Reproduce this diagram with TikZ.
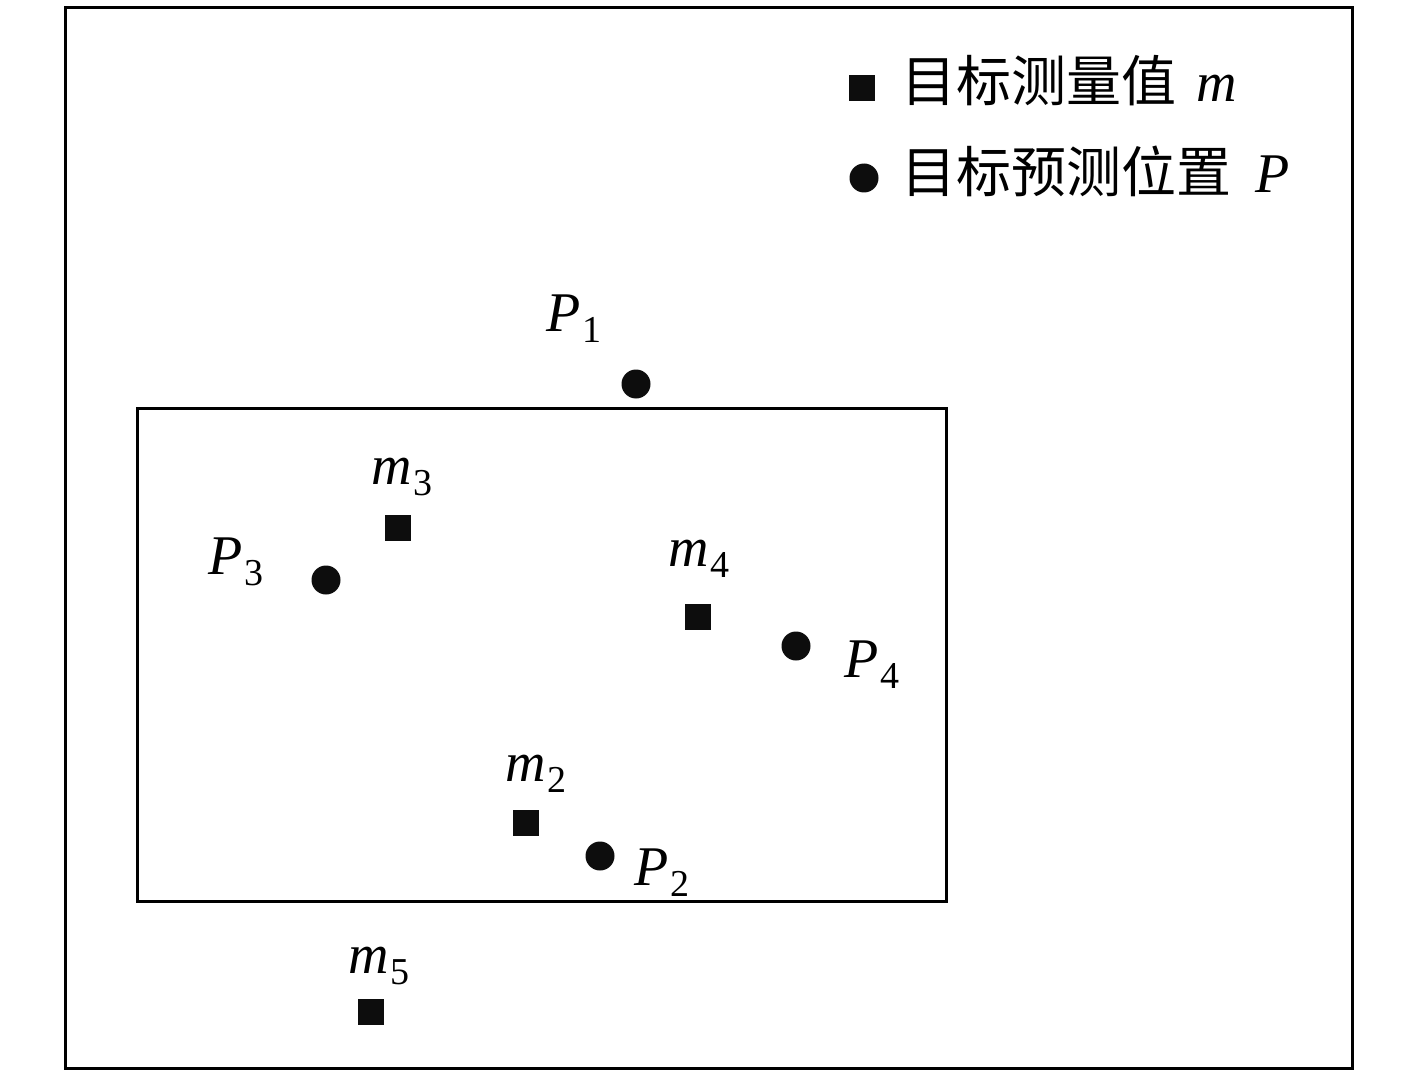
\documentclass[tikz,border=0pt]{standalone}
\usepackage{fontspec}
\setmainfont{Liberation Serif}
\newfontfamily\cjk{Noto Sans CJK SC}
\newcommand\lbl[2]{\textit{#1}\kern1pt\raisebox{-5.5pt}{\fontsize{19}{19}\selectfont #2}}
\tikzset{
  frame/.style={draw=black, line width=1.5pt},
  meas/.style={fill=black!95, rectangle, minimum size=13pt, inner sep=0pt},
  pred/.style={fill=black!95, circle, minimum size=14.5pt, inner sep=0pt},
  lab/.style={anchor=base west, inner sep=0pt, font=\fontsize{28}{28}\selectfont},
  leg/.style={anchor=base west, inner sep=0pt}
}
\begin{document}
\begin{tikzpicture}[x=0.5pt,y=-0.5pt]
\useasboundingbox (0,0) rectangle (1417,1075);
\fill[white] (0,0) rectangle (1417,1075);
\draw[frame] (65,8) rectangle (1352,1068);
\draw[frame] (137,408) rectangle (946,901);
% legend
\node[meas] (legm) at (862,88) {};
\node[pred] (legp) at (864,178) {};
\node[leg] (legmt) at (901,102) {{\fontsize{27.5}{27.5}\cjk 目标测量值}\kern10pt{\fontsize{28}{28}\selectfont\textit{m}}};
\node[leg] (legpt) at (901,193) {{\fontsize{27.5}{27.5}\cjk 目标预测位置}\kern12pt{\fontsize{28}{28}\selectfont\textit{P}}};
% points
\node[pred] (p1) at (636,384) {};
\node[pred] (p3) at (326,580) {};
\node[pred] (p4) at (796,646) {};
\node[pred] (p2) at (600,856) {};
\node[meas] (m3) at (398,528) {};
\node[meas] (m4) at (698,617) {};
\node[meas] (m2) at (526,823) {};
\node[meas] (m5) at (371,1012) {};
% labels
\node[lab] (lp1) at (546,331) {\lbl{P}{1}};
\node[lab] (lm3) at (371,484) {\lbl{m}{3}};
\node[lab] (lp3) at (208,574) {\lbl{P}{3}};
\node[lab] (lm4) at (668,566) {\lbl{m}{4}};
\node[lab] (lp4) at (844,677) {\lbl{P}{4}};
\node[lab] (lm2) at (505,781) {\lbl{m}{2}};
\node[lab] (lp2) at (634,885) {\lbl{P}{2}};
\node[lab] (lm5) at (348,973) {\lbl{m}{5}};
\end{tikzpicture}
\end{document}
